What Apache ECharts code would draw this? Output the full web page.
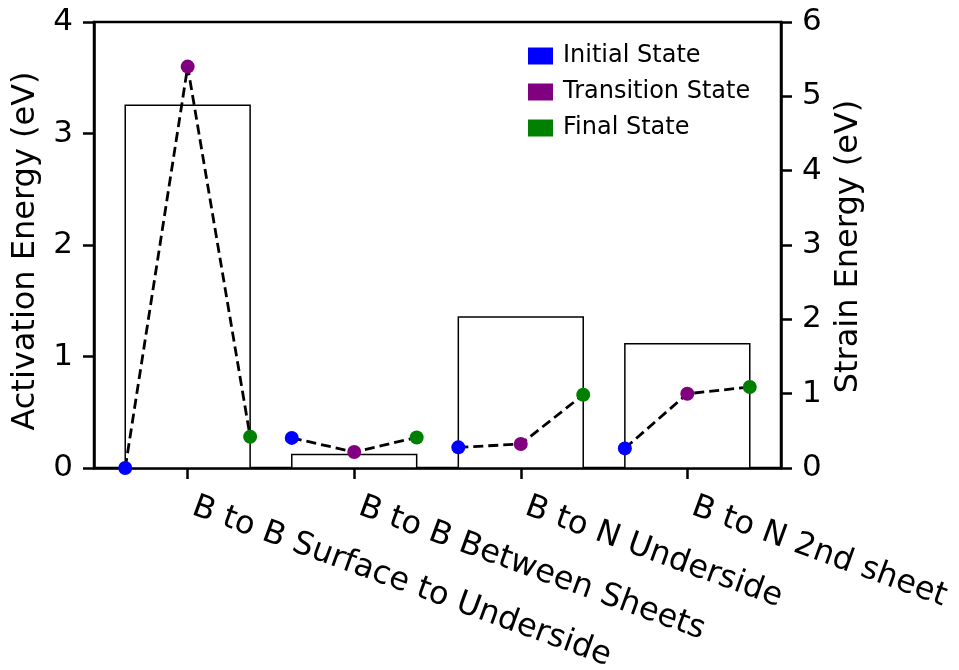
<!DOCTYPE html>
<html>
<head>
<meta charset="utf-8">
<title>Activation and Strain Energy</title>
<script src="https://cdn.jsdelivr.net/npm/echarts@6/dist/echarts.min.js"></script>
<style>
  html, body { margin: 0; padding: 0; background: #fff; }
  #chart { width: 959px; height: 670px; }
</style>
</head>
<body>
<div id="chart"></div>
<script>
// Migration pathways along the x axis
const categories = [
  'B to B Surface to Underside',
  'B to B Between Sheets',
  'B to N Underside',
  'B to N 2nd sheet'
];
// Strain energy for each pathway (eV, right axis)
const strainEnergy = [4.88, 0.18, 2.03, 1.67];
// Activation energy profile (eV, left axis)
const initialState = [0, 0.27, 0.185, 0.176];
const transitionState = [3.6, 0.143, 0.215, 0.666];
const finalState = [0.28, 0.274, 0.657, 0.726];
// Tick labels
const categoryTicks = [0, 1, 2, 3];
const leftTicks = [0, 1, 2, 3, 4];
const rightTicks = [0, 1, 2, 3, 4, 5, 6];

const stateNames = ['Initial State', 'Transition State', 'Final State'];
const stateColors = ['#0000ff', '#800080', '#008000'];
const stateValues = [initialState, transitionState, finalState];
const halfBar = 0.375;                       // half the bar width in category units
const stateOffsets = [-halfBar, 0, halfBar]; // initial / transition / final sit at bar left, centre, right

const font = 'DejaVu Sans';
const chart = echarts.init(document.getElementById('chart'), null, { renderer: 'canvas' });

const series = [];

// Strain energy bars: open rectangles on the right axis
series.push({
  type: 'custom',
  name: 'Strain Energy',
  xAxisIndex: 0,
  yAxisIndex: 1,
  z: 1,
  clip: true,
  data: strainEnergy.map((v, i) => [i, v]),
  encode: { x: 0, y: 1 },
  renderItem: function (params, api) {
    const x = api.value(0);
    const v = api.value(1);
    const tl = api.coord([x - halfBar, v]);
    const br = api.coord([x + halfBar, 0]);
    return {
      type: 'rect',
      shape: { x: tl[0], y: tl[1], width: br[0] - tl[0], height: br[1] - tl[1] },
      style: { fill: '#ffffff', stroke: '#000000', lineWidth: 1.5 }
    };
  }
});

// Dashed energy profile for each pathway
categories.forEach((c, i) => {
  series.push({
    type: 'line',
    name: 'profile-' + i,
    xAxisIndex: 0,
    yAxisIndex: 0,
    z: 2,
    showSymbol: false,
    symbol: 'none',
    silent: true,
    lineStyle: { color: '#000', width: 2.8, type: [10, 5] },
    data: stateValues.map((arr, k) => [i + stateOffsets[k], arr[i]])
  });
});

// State markers
stateNames.forEach((name, k) => {
  series.push({
    type: 'scatter',
    name: name,
    xAxisIndex: 0,
    yAxisIndex: 0,
    z: 3,
    clip: true,
    symbol: 'circle',
    symbolSize: 14,
    itemStyle: { color: stateColors[k], opacity: 1 },
    data: stateValues[k].map((v, i) => [i + stateOffsets[k], v])
  });
});

const axisLine = { show: true, onZero: false, lineStyle: { color: '#000', width: 2.5 } };
const axisTick = { show: true, inside: false, length: 11, lineStyle: { color: '#000', width: 2.5 } };

const option = {
  animation: false,
  backgroundColor: '#ffffff',
  textStyle: { fontFamily: font },
  color: stateColors,
  grid: {
    left: 94, right: 178, top: 22, bottom: 202,
    outerBoundsMode: 'none',
    containLabel: false,
    show: true, borderColor: '#000', borderWidth: 2.5, backgroundColor: 'transparent'
  },
  legend: {
    data: stateNames,
    orient: 'vertical',
    left: 523,
    top: 39,
    icon: 'rect',
    itemWidth: 25,
    itemHeight: 17,
    itemGap: 12,
    textStyle: { fontFamily: font, fontSize: 24, color: '#000', padding: [0, 0, 0, 5] }
  },
  xAxis: {
    type: 'value',
    min: -0.5625,
    max: 3.5625,
    axisLine: axisLine,
    axisTick: Object.assign({}, axisTick, { customValues: categoryTicks }),
    splitLine: { show: false },
    axisLabel: {
      customValues: categoryTicks,
      rotate: -20,
      margin: 36,
      fontSize: 32,
      fontFamily: font,
      color: '#000',
      padding: [0, 0, 0, 6],
      formatter: v => categories[Math.round(v)]
    }
  },
  yAxis: [
    {
      type: 'value',
      position: 'left',
      min: 0, max: 4, interval: 1,
      name: 'Activation Energy (eV)',
      nameLocation: 'middle',
      nameGap: 52,
      nameTextStyle: { fontFamily: font, fontSize: 32, color: '#000', padding: [0, 12, 0, 0] },
      axisLine: axisLine,
      axisTick: axisTick,
      splitLine: { show: false },
      axisLabel: {
        fontSize: 31, fontFamily: font, color: '#000', margin: 21,
        customValues: leftTicks,
        formatter: v => String(v)
      }
    },
    {
      type: 'value',
      position: 'right',
      min: 0, max: 6, interval: 1,
      name: 'Strain Energy (eV)',
      nameLocation: 'middle',
      nameGap: 43,
      nameTextStyle: { fontFamily: font, fontSize: 32, color: '#000', padding: [0, 3, 0, 0] },
      axisLine: axisLine,
      axisTick: axisTick,
      splitLine: { show: false },
      axisLabel: {
        fontSize: 31, fontFamily: font, color: '#000', margin: 21,
        customValues: rightTicks,
        formatter: v => String(v)
      }
    }
  ],
  series: series
};

chart.setOption(option);
</script>
</body>
</html>
